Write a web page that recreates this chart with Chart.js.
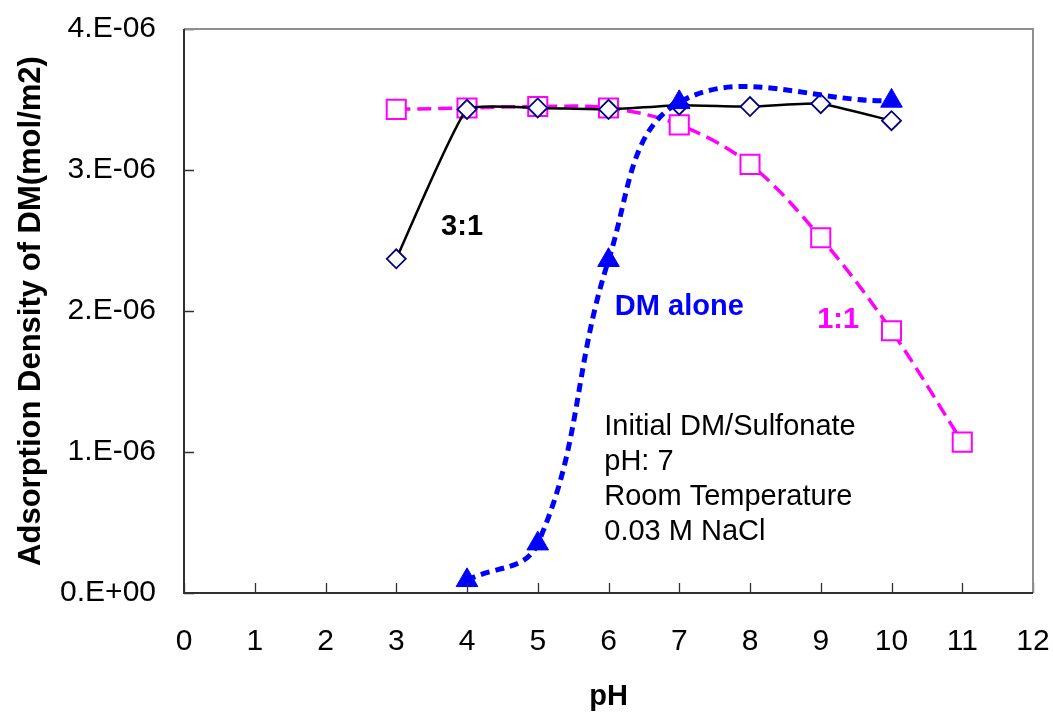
<!DOCTYPE html>
<html><head><meta charset="utf-8">
<script src="https://cdn.jsdelivr.net/npm/chart.js@4/dist/chart.umd.min.js"></script>
<style>html,body{margin:0;padding:0;background:#fff;overflow:hidden;} #wrap{width:1053px;height:717px;position:relative;}</style>
</head><body><div id="wrap"><canvas id="c" width="1053" height="717"></canvas></div>
<script>
// ---- data ----
const pH31 = [3, 4, 5, 6, 7, 8, 9, 10];
const ads31 = [2.37e-6, 3.43e-6, 3.44e-6, 3.43e-6, 3.46e-6, 3.45e-6, 3.47e-6, 3.35e-6];
const pH11 = [3, 4, 5, 6, 7, 8, 9, 10, 11];
const ads11 = [3.43e-6, 3.44e-6, 3.45e-6, 3.44e-6, 3.32e-6, 3.04e-6, 2.52e-6, 1.86e-6, 1.07e-6];
const pHDM = [4, 5, 6, 7, 10];
const adsDM = [0.09e-6, 0.35e-6, 2.36e-6, 3.48e-6, 3.49e-6];
const xTickLabels = ['0','1','2','3','4','5','6','7','8','9','10','11','12'];
const yTickLabels = ['0.E+00','1.E-06','2.E-06','3.E-06','4.E-06'];
const xTitle = 'pH';
const yTitle = 'Adsorption Density of DM(mol/m2)';
const seriesNames = ['DM alone', '3:1', '1:1'];

const FONT = '"Liberation Sans", Arial, sans-serif';
const toPts = (xs, ys) => xs.map((x, i) => ({x: x, y: ys[i]}));

// annotation texts (anchored in data coordinates)
const notes = [
  {text: '3:1', x: 3.93, y: 2.54e-6, color: '#000000', weight: 'bold', align: 'center'},
  {text: 'DM alone', x: 6.09, y: 1.97e-6, color: '#0000ff', weight: 'bold', align: 'left'},
  {text: '1:1', x: 8.95, y: 1.88e-6, color: '#ff00ff', weight: 'bold', align: 'left'},
  {text: 'Initial DM/Sulfonate', x: 5.94, y: 1.12e-6, color: '#000000', weight: 'normal', align: 'left'},
  {text: 'pH: 7', x: 5.94, y: 0.872e-6, color: '#000000', weight: 'normal', align: 'left'},
  {text: 'Room Temperature', x: 5.94, y: 0.624e-6, color: '#000000', weight: 'normal', align: 'left'},
  {text: '0.03 M NaCl', x: 5.94, y: 0.376e-6, color: '#000000', weight: 'normal', align: 'left'}
];

const framePlugin = {
  id: 'frame',
  afterDraw(chart) {
    const {ctx, chartArea: a, scales: {x, y}} = chart;
    ctx.save();
    // inside tick marks
    ctx.strokeStyle = '#303030';
    ctx.lineWidth = 1.3;
    ctx.beginPath();
    x.ticks.forEach(t => {
      const px = Math.round(x.getPixelForValue(t.value)) + 0.5;
      ctx.moveTo(px, a.bottom); ctx.lineTo(px, a.bottom - 10);
    });
    y.ticks.forEach(t => {
      const py = Math.round(y.getPixelForValue(t.value)) + 0.5;
      ctx.moveTo(a.left, py); ctx.lineTo(a.left + 10, py);
    });
    ctx.stroke();
    // top and right border (gray)
    ctx.strokeStyle = '#8f8f8f';
    ctx.lineWidth = 2;
    ctx.beginPath();
    ctx.moveTo(a.left, a.top); ctx.lineTo(a.right, a.top); ctx.lineTo(a.right, a.bottom);
    ctx.stroke();
    // left and bottom axis lines
    ctx.strokeStyle = '#303030';
    ctx.beginPath();
    ctx.moveTo(a.left, a.top); ctx.lineTo(a.left, a.bottom); ctx.lineTo(a.right, a.bottom);
    ctx.stroke();
    // annotations
    ctx.textBaseline = 'alphabetic';
    notes.forEach(n => {
      ctx.font = n.weight + ' 29px ' + FONT;
      ctx.fillStyle = n.color;
      ctx.textAlign = n.align;
      ctx.fillText(n.text, x.getPixelForValue(n.x), y.getPixelForValue(n.y));
    });
    ctx.restore();
  }
};

new Chart(document.getElementById('c'), {
  type: 'scatter',
  data: {
    datasets: [
      {
        label: seriesNames[0],
        data: toPts(pHDM, adsDM),
        showLine: true,
        order: 0,
        borderColor: '#0000ff',
        borderWidth: 5,
        borderDash: [9, 6],
        tension: 0.4,
        pointStyle: 'triangle',
        pointRadius: 12.5,
        pointBackgroundColor: '#0000ff',
        pointBorderColor: '#0000ff',
        pointBorderWidth: 1
      },
      {
        label: seriesNames[1],
        data: toPts(pH31, ads31),
        showLine: true,
        order: 1,
        borderColor: '#000000',
        borderWidth: 2.5,
        tension: 0.13,
        pointStyle: 'rectRot',
        pointRadius: 9.5,
        pointBackgroundColor: '#ffffff',
        pointBorderColor: '#000080',
        pointBorderWidth: 1.8
      },
      {
        label: seriesNames[2],
        data: toPts(pH11, ads11),
        showLine: true,
        order: 2,
        borderColor: '#ff00ff',
        borderWidth: 3.5,
        borderDash: [14, 7],
        tension: 0.35,
        pointStyle: 'rect',
        pointRadius: 13.5,
        pointBackgroundColor: '#ffffff',
        pointBorderColor: '#ff00ff',
        pointBorderWidth: 2
      }
    ]
  },
  options: {
    responsive: false,
    animation: false,
    layout: {padding: {top: 29, right: 20, left: 0, bottom: 0}},
    plugins: {legend: {display: false}, tooltip: {enabled: false}},
    scales: {
      x: {
        type: 'linear', min: 0, max: 12,
        grid: {display: false}, border: {display: false},
        ticks: {stepSize: 1, padding: 23, color: '#000', font: {family: FONT, size: 30},
          callback: v => xTickLabels[Math.round(v)] ?? ''},
        title: {display: true, text: xTitle, color: '#000',
          font: {family: FONT, size: 29, weight: 'bold'}, padding: {top: 0, bottom: 3}},
        afterFit(s) { s.height = 124; s.paddingLeft = 0; s.paddingRight = 0; }
      },
      y: {
        type: 'linear', min: 0, max: 4e-6,
        grid: {display: false}, border: {display: false},
        ticks: {stepSize: 1e-6, padding: 20, color: '#000', font: {family: FONT, size: 30},
          callback: v => yTickLabels[Math.round(v * 1e6)] ?? ''},
        title: {display: true, text: yTitle, color: '#000',
          font: {family: FONT, size: 31, weight: 'bold'}, padding: {top: 13, bottom: 0}},
        afterFit(s) { s.width = 184; s.paddingTop = 0; s.paddingBottom = 0; }
      }
    }
  },
  plugins: [framePlugin]
});
</script>
</body></html>
